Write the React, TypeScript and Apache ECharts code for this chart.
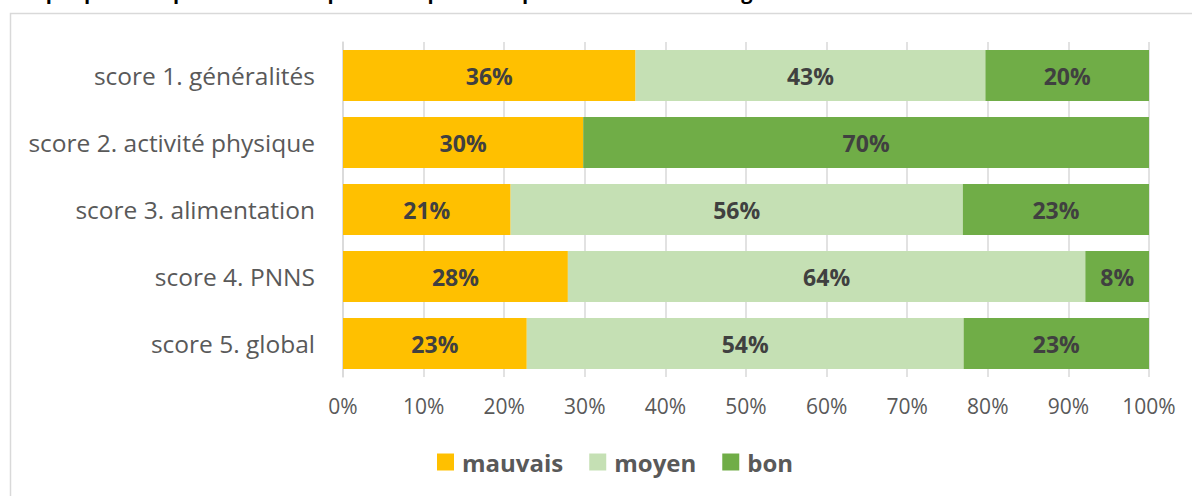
import React, { useEffect, useRef } from "react";
import * as echarts from "echarts";

const categories = [
  "score 1. généralités",
  "score 2. activité physique",
  "score 3. alimentation",
  "score 4. PNNS",
  "score 5. global",
];
const mauvais = [36.3, 29.8, 20.8, 27.9, 22.8];
const moyen = [43.4, 0, 56.1, 64.2, 54.2];
const bon = [20.3, 70.2, 23.1, 7.9, 23.0];
const seriesNames = ["mauvais", "moyen", "bon"];
const colors = ["#FFC000", "#C5E0B4", "#70AD47"];
const titleText =
  "Graphique 3 : Répartition des répondants pour chaque score en trois catégories";

const FONT = "'Open Sans', 'DejaVu Sans', sans-serif";

export default function App() {
  const ref = useRef<HTMLDivElement>(null);
  useEffect(() => {
    if (!ref.current) return;
    const chart = echarts.init(ref.current, undefined, { renderer: "svg" });
    const values = [mauvais, moyen, bon];
    chart.setOption({
      animation: false,
      backgroundColor: "#ffffff",
      textStyle: { fontFamily: FONT },
      graphic: [
        {
          type: "rect",
          shape: { x: 10.5, y: 13.5, width: 1400, height: 700 },
          style: { fill: "none", stroke: "#d9d9d9", lineWidth: 1.5 },
          silent: true,
        },
        {
          type: "text",
          x: 10,
          y: 1,
          style: {
            text: titleText,
            font: `bold 20px ${FONT}`,
            fill: "#000000",
            textVerticalAlign: "bottom",
          },
          silent: true,
        },
      ],
      grid: { left: 343, right: 43, top: 42, height: 335 },
      xAxis: {
        type: "value",
        min: 0,
        max: 100,
        interval: 10,
        axisLine: { show: false },
        axisTick: { show: false },
        splitLine: { lineStyle: { color: "#d9d9d9", width: 1.5 } },
        axisLabel: {
          formatter: "{value}%",
          color: "#595959",
          fontSize: 21,
          fontFamily: FONT,
          margin: 18,
        },
      },
      yAxis: {
        type: "category",
        inverse: true,
        data: categories,
        axisLine: { show: true, lineStyle: { color: "#d9d9d9", width: 1.5 } },
        axisTick: { show: false },
        axisLabel: {
          color: "#595959",
          fontSize: 24.5,
          fontFamily: FONT,
          margin: 28,
        },
      },
      legend: {
        data: seriesNames,
        left: 437,
        top: 450,
        padding: 0,
        icon: "rect",
        itemWidth: 17,
        itemHeight: 17,
        itemGap: 26,
        textStyle: {
          color: "#595959",
          fontSize: 24,
          fontWeight: "bold",
          fontFamily: FONT,
          padding: [0, 0, 0, 3],
        },
      },
      series: seriesNames.map((name, i) => ({
        name,
        type: "bar",
        stack: "total",
        barWidth: 51,
        data: values[i],
        itemStyle: { color: colors[i] },
        label: {
          show: true,
          position: "inside",
          color: "#404040",
          fontSize: 23,
          fontWeight: "bold",
          fontFamily: FONT,
          formatter: (p: any) => (p.value > 0 ? Math.round(p.value) + "%" : ""),
        },
      })),
    });
    return () => chart.dispose();
  }, []);
  return (
    <div
      ref={ref}
      style={{ position: "fixed", left: 0, top: 0, width: 1192, height: 496 }}
    />
  );
}
